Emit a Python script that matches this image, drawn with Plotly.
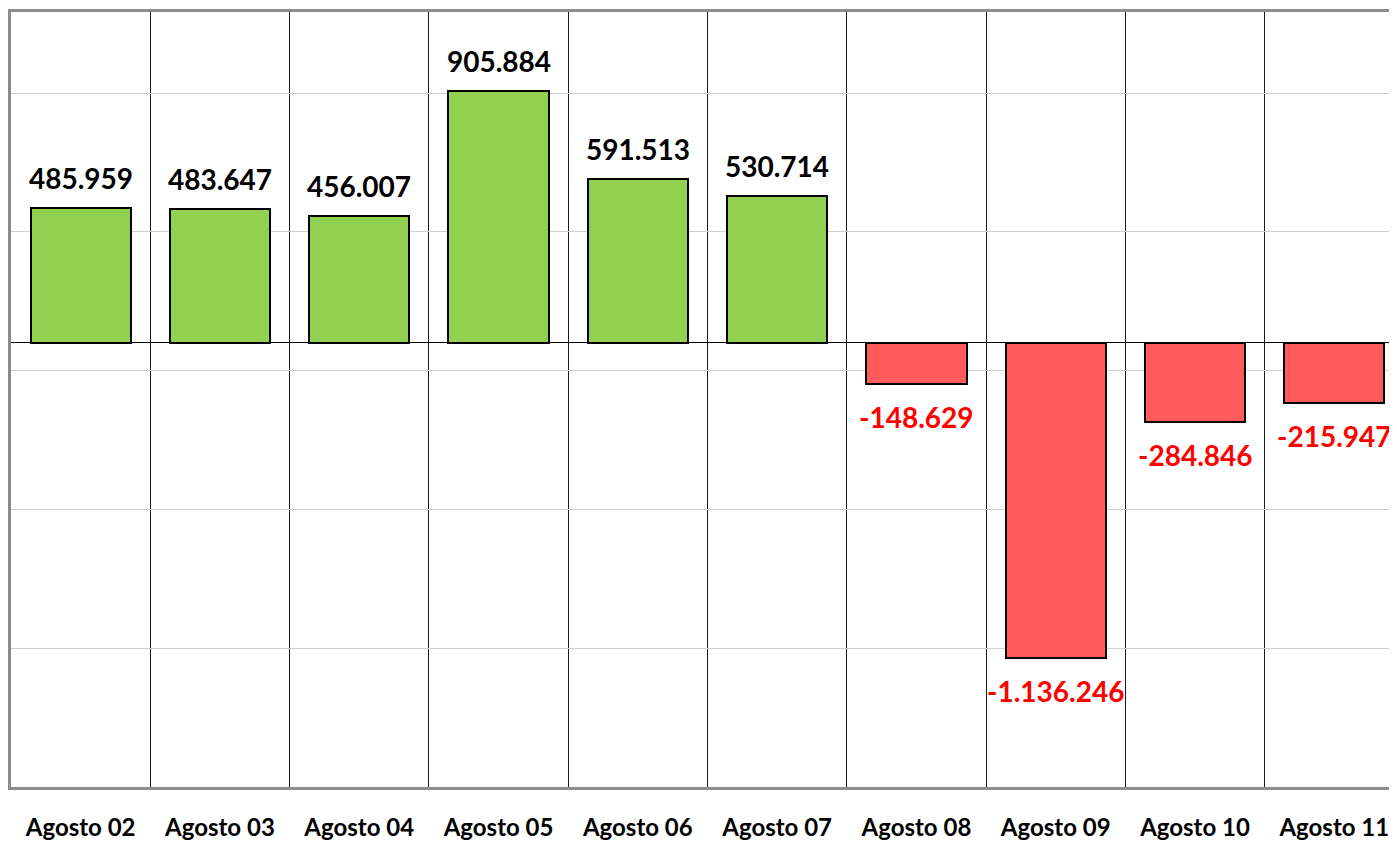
import plotly.graph_objects as go

days = ["Agosto 02", "Agosto 03", "Agosto 04", "Agosto 05", "Agosto 06",
        "Agosto 07", "Agosto 08", "Agosto 09", "Agosto 10", "Agosto 11"]
values = [485959, 483647, 456007, 905884, 591513,
          530714, -148629, -1136246, -284846, -215947]

GREEN = "#92D050"
RED = "#FF5B5B"


def fmt(v):
    # thousands separated with a dot, as in the original
    return f"{v:,}".replace(",", ".")


bar_colors = [GREEN if v >= 0 else RED for v in values]

fig = go.Figure()
fig.add_trace(go.Bar(
    x=days, y=values,
    width=0.72,
    marker=dict(color=bar_colors, line=dict(color="black", width=2)),
    hoverinfo="skip",
))

# value labels above (positive) or below (negative) each bar
for d, v in zip(days, values):
    fig.add_annotation(
        x=d, y=v, text=fmt(v), showarrow=False,
        yanchor="bottom" if v >= 0 else "top",
        yshift=11 if v >= 0 else -14,
        font=dict(family="Lato", size=28, weight="bold",
                  color="black" if v >= 0 else "#FF0000"),
    )

# page body adds an 8px margin, so the figure is sized to fit inside it
fig.update_layout(
    width=1389, height=835,
    margin=dict(l=3, r=0, t=4, b=56),
    paper_bgcolor="white", plot_bgcolor="white",
    showlegend=False,
    bargap=0,
)
fig.update_xaxes(
    range=[-0.5, 9.45],
    showgrid=True, tickson="boundaries",
    gridcolor="#1a1a1a", gridwidth=1,
    showline=True, mirror=True, linecolor="#8c8c8c", linewidth=3,
    ticks="", ticklabelstandoff=17,
    tickfont=dict(family="Lato", size=24, weight="bold", color="black"),
)
fig.update_yaxes(
    range=[-1600000, 1192000],
    tick0=-1600000, dtick=500000,
    showgrid=True, gridcolor="#d0d0d0", gridwidth=1,
    zeroline=True, zerolinecolor="black", zerolinewidth=1,
    showline=True, linecolor="#8c8c8c", linewidth=3,
    showticklabels=False, ticks="",
)

fig.write_html("out.html")
